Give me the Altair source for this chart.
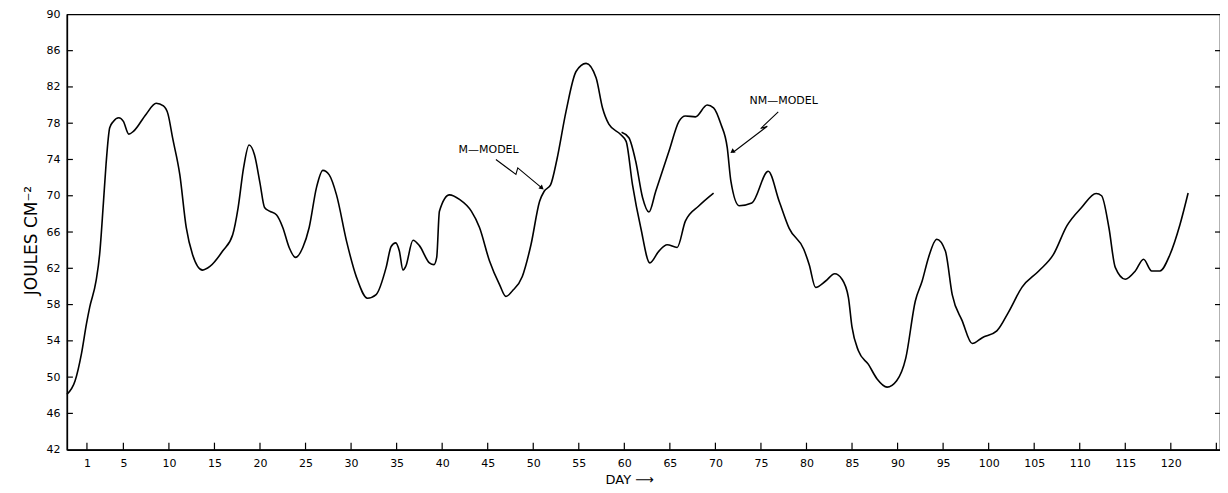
import altair as alt
import pandas as pd

# ---- data ----
m_days = [-1.2, -0.3, 0.4, 0.95, 1.3, 2.0, 2.4, 2.8, 3.1, 3.5, 3.9, 4.5, 5.0, 5.6, 6.1,
          7.5, 8.6, 9.4, 9.9, 10.4, 11.2, 11.9, 12.6, 13.7, 14.5, 15.9, 17.0, 17.6, 18.2,
          18.8, 19.4, 20.0, 20.5, 21.05, 21.8, 22.5, 23.2, 23.9, 24.7, 25.4, 26.2, 26.9,
          27.6, 28.4, 29.5, 30.6, 31.8, 32.75, 33.85, 34.4, 34.9, 35.3, 35.7, 36.0, 36.8,
          37.5, 38.6, 39.1, 39.4, 39.7, 40.8, 41.9, 43.2, 44.1, 45.2, 46.3, 47.0, 47.7,
          48.8, 49.75, 50.7, 51.2, 51.9, 52.6, 53.6, 54.7, 55.8, 56.9, 57.6, 58.3, 59.6,
          60.2, 60.9, 61.8, 62.8, 63.8, 64.7, 65.8, 66.7, 68.2, 69.8]
m_vals = [48.1, 49.6, 52.6, 55.9, 57.7, 60.6, 63.6, 69.1, 73.5, 77.5, 78.2, 78.6, 78.2, 76.8, 77.1,
          79.0, 80.2, 79.9, 79.0, 76.4, 72.3, 66.5, 63.5, 61.8, 62.2, 63.9, 65.7, 68.7, 73.1,
          75.6, 74.5, 71.4, 68.7, 68.3, 67.9, 66.5, 64.3, 63.2, 64.3, 66.5, 70.9, 72.8,
          72.3, 70.1, 65.0, 61.0, 58.7, 59.1, 62.1, 64.4, 64.8, 63.9, 61.8, 62.2, 65.1,
          64.5, 62.6, 62.4, 63.2, 68.3, 70.1, 69.6, 68.3, 66.5, 62.8, 60.2, 58.9, 59.5,
          61.1, 64.6, 69.4, 70.5, 71.2, 74.0, 79.3, 83.7, 84.6, 83.0, 79.7, 77.9, 76.75,
          76.0, 71.2, 66.5, 62.6, 63.9, 64.6, 64.3, 67.2, 68.9, 70.3]

nm_days = [59.7, 60.5, 61.25, 62.0, 62.7, 63.45, 64.9, 66.0, 66.7, 67.8, 69.1, 69.8, 70.6,
           71.3, 71.7, 72.6, 74.0, 75.8, 77.0, 78.1, 79.7, 80.3, 81.0, 82.1, 83.1, 83.9,
           84.6, 85.0, 85.7, 86.8, 87.75, 88.85, 89.9, 90.9, 91.95, 92.7, 93.4, 94.3, 95.25,
           96.0, 97.1, 98.2, 99.3, 100.9, 102.2, 103.65, 105.5, 107.1, 108.6, 110.2, 111.8,
           112.4, 113.2, 113.9, 115.0, 116.1, 117.0, 117.9, 118.8, 119.9, 121.0, 121.9]
nm_vals = [77.0, 76.4, 73.8, 69.8, 68.2, 70.5, 74.9, 78.2, 78.8, 78.7, 80.0, 79.7, 77.9,
           75.3, 71.6, 68.9, 69.2, 72.7, 69.4, 66.4, 64.1, 62.4, 59.9, 60.6, 61.4, 60.8,
           58.8, 55.5, 52.9, 51.4, 49.8, 48.9, 49.6, 52.1, 58.4, 60.6, 63.2, 65.2, 63.9,
           59.1, 56.2, 53.7, 54.35, 55.1, 57.2, 59.9, 61.7, 63.5, 66.7, 68.7, 70.25,
           70.0, 66.5, 62.1, 60.8, 61.7, 63.0, 61.7, 61.7, 63.5, 66.8, 70.3]

y_label_values = [42, 46, 50, 54, 58, 62, 66, 70, 74, 78, 82, 86, 90]
y_tick_values = [46, 50, 54, 58, 62, 66, 70, 74, 78, 82, 86]
x_label_values = [1, 5, 10, 15, 20, 25, 30, 35, 40, 45, 50, 55, 60, 65, 70, 75, 80, 85,
                  90, 95, 100, 105, 110, 115, 120]
x_tick_values = x_label_values + [125]

label_names = ["M\u2014MODEL", "NM\u2014MODEL"]
label_days = [45.1, 77.5]
label_vals = [75.0, 80.4]

arrow_ids = ["M", "M", "M", "M", "NM", "NM", "NM", "NM"]
arrow_days = [45.9, 48.1, 48.3, 50.9, 76.9, 74.97, 75.7, 71.95]
arrow_vals = [74.0, 72.35, 73.07, 70.9, 79.24, 77.41, 77.67, 74.8]
head_days = [50.95, 71.85]
head_vals = [70.85, 74.85]
head_angles = [41, 144]

W, H = 1155, 436
FONT = "DejaVu Sans"

xs = alt.Scale(domain=[-1.2, 125.4], nice=False, zero=False)
ys = alt.Scale(domain=[42, 90], nice=False, zero=False)

x_axis = alt.Axis(
    values=x_label_values, ticks=False, grid=False, domainColor="black", domainWidth=1.5,
    labelFont=FONT, labelFontSize=11, labelColor="black", labelPadding=8,
    title="DAY \u27f6", titleFont=FONT, titleFontSize=13, titleFontWeight="normal",
    titleColor="black", titleX=539, titleY=34, titleAlign="left", titleBaseline="alphabetic")
y_axis = alt.Axis(
    values=y_label_values, ticks=False, grid=False, domainColor="black", domainWidth=1.5,
    labelFont=FONT, labelFontSize=11, labelColor="black", labelPadding=7,
    title="JOULES  CM\u207b\u00b2", titleFont=FONT, titleFontSize=17, titleFontWeight="normal",
    titleColor="black", titleX=-35, titleY=H / 2 + 8, titleAngle=-90, titleAlign="center",
    titleBaseline="middle")

X = alt.X("day:Q", scale=xs, axis=x_axis)
Y = alt.Y("val:Q", scale=ys, axis=y_axis)

lines = pd.DataFrame({
    "day": m_days + nm_days,
    "val": m_vals + nm_vals,
    "series": ["M"] * len(m_days) + ["NM"] * len(nm_days),
})

base = alt.Chart(lines).mark_line(color="black", strokeWidth=1.6, interpolate="monotone").encode(
    x=X, y=Y, detail="series:N")

xt = alt.Chart(pd.DataFrame({"day": x_tick_values})).mark_rule(color="black", strokeWidth=1.2).encode(
    x=X, y=alt.value(H), y2=alt.value(H - 7))

yt_df = pd.DataFrame({"val": y_tick_values})
ytl = alt.Chart(yt_df).mark_rule(color="black", strokeWidth=1.2).encode(
    y=Y, x=alt.value(0), x2=alt.value(6))
ytr = alt.Chart(yt_df).mark_rule(color="black", strokeWidth=1.2).encode(
    y=Y, x=alt.value(W - 5), x2=alt.value(W))

labels = alt.Chart(pd.DataFrame({"day": label_days, "val": label_vals, "t": label_names})).mark_text(
    font=FONT, fontSize=11, color="black").encode(x=X, y=Y, text="t:N")

arrows = alt.Chart(pd.DataFrame({"day": arrow_days, "val": arrow_vals, "a": arrow_ids,
                                 "o": list(range(len(arrow_ids)))})).mark_line(
    color="black", strokeWidth=1.1).encode(x=X, y=Y, detail="a:N", order="o:Q")

heads = alt.Chart(pd.DataFrame({"day": head_days, "val": head_vals, "ang": head_angles})).mark_point(
    shape="triangle-right", filled=True, color="black", size=28, opacity=1).encode(
    x=X, y=Y, angle=alt.Angle("ang:Q", scale=None))

chart = alt.layer(base, xt, ytl, ytr, arrows, heads, labels).properties(
    width=W, height=H,
    padding={"left": 59, "top": 6, "right": 0, "bottom": 38},
    autosize=alt.AutoSizeParams(type="none"),
    background="white",
).configure_view(stroke="black", strokeWidth=1.2)

chart.save("out.html", embed_options={"renderer": "svg", "actions": False})
